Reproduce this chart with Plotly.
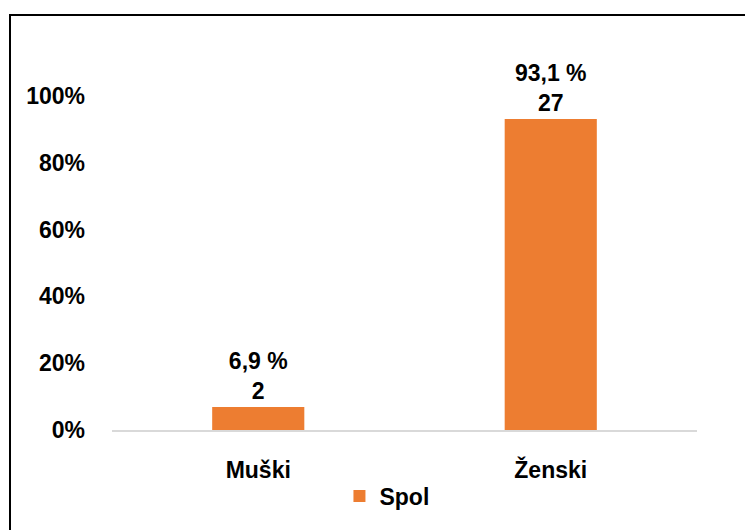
import plotly.graph_objects as go

categories = ["Muški", "Ženski"]
shares = [0.069, 0.931]
share_labels = ["6,9 %", "93,1 %"]
counts = [2, 27]
series_name = "Spol"
tick_vals = [0, 0.2, 0.4, 0.6, 0.8, 1.0]
tick_text = ["0%", "20%", "40%", "60%", "80%", "100%"]

FONT = "Liberation Sans"
texts = [f"{p}<br>{c}" for p, c in zip(share_labels, counts)]

def f(size=23):
    return dict(family=FONT, size=size, color="#000000", weight="bold")

FW, FH = 745, 530
L, T, W, H = 112, 96, 585, 334

fig = go.Figure()
fig.add_trace(go.Bar(
    x=categories, y=shares, name=series_name,
    marker=dict(color="#ED7D31", line=dict(width=0)),
    text=texts, textposition="outside", cliponaxis=False,
    constraintext="none",
    textfont=f(),
    hoverinfo="skip",
))

fig.update_layout(
    width=FW, height=FH,
    margin=dict(l=L, r=FW - L - W, t=T, b=FH - T - H),
    paper_bgcolor="white", plot_bgcolor="white",
    bargap=0.685,
    font=f(),
    showlegend=True,
    legend=dict(orientation="h", x=0.47, xanchor="center", y=-0.198, yanchor="middle",
                font=f(), itemwidth=30),
    xaxis=dict(showgrid=False, showline=True, linecolor="#D9D9D9", linewidth=2,
               ticks="", ticklabelstandoff=18, tickfont=f()),
    yaxis=dict(range=[0, 1.0], tickvals=tick_vals, ticktext=tick_text,
               showgrid=False, showline=False, zeroline=False, ticks="",
               ticklabelstandoff=26, tickfont=f()),
    shapes=[dict(type="rect", xref="paper", yref="paper",
                 x0=(10 - L) / W, x1=1.3, y0=-0.6, y1=(T + H - 15) / H,
                 line=dict(color="#000000", width=2), fillcolor="rgba(0,0,0,0)",
                 layer="below")],
)

fig.write_html(
    "out.html",
    config={"displayModeBar": False},
    post_script="document.body.style.margin='0';document.documentElement.style.overflow='hidden';document.body.style.overflow='hidden';",
)
